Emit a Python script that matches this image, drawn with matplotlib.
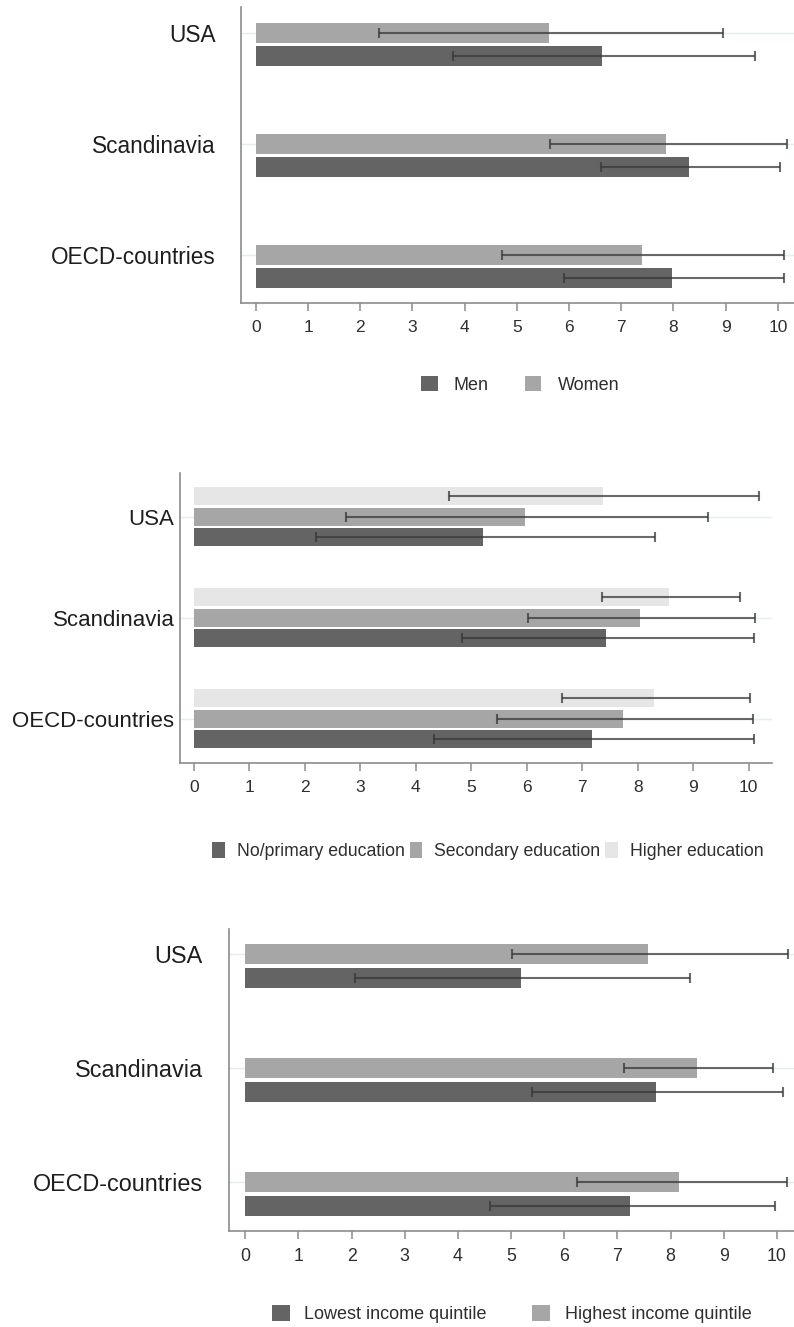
import matplotlib
matplotlib.use("Agg")
import matplotlib.pyplot as plt
import numpy as np
from matplotlib.patches import Patch

plt.rcParams['font.family'] = ['Liberation Sans', 'DejaVu Sans']

countries = ['USA', 'Scandinavia', 'OECD-countries']

# Panel 1: gender
men_mean = [6.64, 8.30, 7.98]
men_lo = [3.78, 6.62, 5.90]
men_hi = [9.56, 10.04, 10.12]
women_mean = [5.62, 7.85, 7.40]
women_lo = [2.36, 5.63, 4.72]
women_hi = [8.95, 10.17, 10.12]

# Panel 2: education
prim_mean = [5.21, 7.43, 7.17]
prim_lo = [2.20, 4.83, 4.33]
prim_hi = [8.32, 10.09, 10.09]
sec_mean = [5.97, 8.04, 7.73]
sec_lo = [2.75, 6.02, 5.46]
sec_hi = [9.26, 10.12, 10.08]
high_mean = [7.37, 8.57, 8.30]
high_lo = [4.60, 7.36, 6.63]
high_hi = [10.18, 9.84, 10.03]

# Panel 3: income
low_mean = [5.18, 7.73, 7.24]
low_lo = [2.07, 5.39, 4.61]
low_hi = [8.37, 10.11, 9.97]
top_mean = [7.58, 8.50, 8.16]
top_lo = [5.01, 7.13, 6.24]
top_hi = [10.21, 9.92, 10.18]

xticks = list(range(0, 11))

DARK = '#646464'
MID = '#a6a6a6'
LIGHT = '#e6e6e6'
ERR = '#383838'
SPINE = '#8c8c8c'
GRID = '#e2efef'

W, H = 794, 1327
fig = plt.figure(figsize=(W / 100, H / 100), dpi=100)


def add_axes_px(left, right, top, bottom):
    return fig.add_axes([left / W, 1 - bottom / H, (right - left) / W, (bottom - top) / H])


def draw_panel(ax, series, colors, offsets, bar_h, tick_idx, xlim, ylim, label_pad, label_fs, tick_fs):
    ypos = np.array([2, 1, 0], dtype=float)  # USA on top
    for (mean, lo, hi), col, off in zip(series, colors, offsets):
        mean = np.array(mean)
        lo = np.array(lo)
        hi = np.array(hi)
        y = ypos + off
        ax.barh(y, mean, height=bar_h, color=col, edgecolor='none', zorder=2)
        ax.errorbar(mean, y, xerr=[mean - lo, hi - mean], fmt='none', ecolor=ERR,
                    elinewidth=1.5, capsize=3.6, capthick=1.5, alpha=0.75, zorder=3)
    tick_y = ypos + offsets[tick_idx]
    ax.set_yticks(tick_y)
    ax.set_yticklabels(countries, fontsize=label_fs, color='#1e1e1e')
    for ty in tick_y:
        ax.axhline(ty, color=GRID, lw=1.0, zorder=1)
    ax.tick_params(axis='y', length=0, pad=label_pad)
    ax.set_xticks(xticks)
    ax.set_xticklabels([str(t) for t in xticks], fontsize=tick_fs, color='#2e2e2e')
    ax.tick_params(axis='x', direction='out', length=6, width=1.1, color=SPINE, pad=6)
    ax.set_xlim(*xlim)
    ax.set_ylim(*ylim)
    for s in ['top', 'right']:
        ax.spines[s].set_visible(False)
    for s in ['left', 'bottom']:
        ax.spines[s].set_color(SPINE)
        ax.spines[s].set_linewidth(1.2)


# ---- Panel 1 ----
ax1 = add_axes_px(240.7, 794, 7, 303)
draw_panel(ax1,
           [(women_mean, women_lo, women_hi), (men_mean, men_lo, men_hi)],
           [MID, DARK], [0.103, -0.103], 0.18, 0,
           (-0.29, 10.31), (-0.326, 2.335), 18, 16.3, 12.5)

# ---- Panel 2 ----
ax2 = add_axes_px(180, 772, 472.7, 763.3)
draw_panel(ax2,
           [(high_mean, high_lo, high_hi), (sec_mean, sec_lo, sec_hi), (prim_mean, prim_lo, prim_hi)],
           [LIGHT, MID, DARK], [0.203, 0.0, -0.203], 0.175, 1,
           (-0.25, 10.42), (-0.442, 2.436), 4, 16.0, 12.5)

# ---- Panel 3 ----
ax3 = add_axes_px(229.3, 794, 928.8, 1231)
draw_panel(ax3,
           [(top_mean, top_lo, top_hi), (low_mean, low_lo, low_hi)],
           [MID, DARK], [0.103, -0.103], 0.176, 0,
           (-0.30, 10.32), (-0.326, 2.326), 19, 16.8, 12.8)


# ---- Legends ----
def add_legend(labels, colors, cx, cy, fs, hl, hh, tp, cs):
    handles = [Patch(facecolor=c, edgecolor='none') for c in colors]
    fig.legend(handles, labels, loc='center', bbox_to_anchor=(cx / W, 1 - cy / H),
               ncol=len(labels), frameon=False, fontsize=fs, handlelength=hl,
               handleheight=hh, handletextpad=tp, columnspacing=cs, borderpad=0,
               borderaxespad=0, labelcolor='#2e2e2e')


add_legend(['Men', 'Women'], [DARK, MID], 520, 385, 13, 0.92, 0.92, 0.89, 2.0)
add_legend(['No/primary education', 'Secondary education', 'Higher education'],
           [DARK, MID, LIGHT], 488, 851, 12.7, 0.72, 0.97, 0.68, 0.28)
add_legend(['Lowest income quintile', 'Highest income quintile'],
           [DARK, MID], 511.5, 1314, 13, 1.0, 1.0, 0.78, 2.55)

fig.savefig('out.png', dpi=100)
